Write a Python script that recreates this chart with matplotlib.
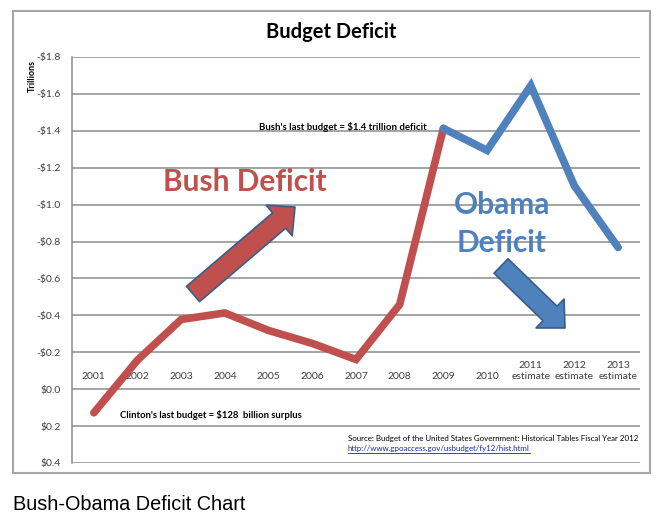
import matplotlib.pyplot as plt
from matplotlib.patches import FancyArrowPatch, Rectangle

# deficit values in trillions (negative = deficit, positive = surplus)
years = ['2001', '2002', '2003', '2004', '2005', '2006', '2007', '2008', '2009',
         '2010', '2011\nestimate', '2012\nestimate', '2013\nestimate']
bush_vals = [0.128, -0.158, -0.378, -0.413, -0.318, -0.248, -0.161, -0.459, -1.413]
obama_vals = [-1.413, -1.294, -1.645, -1.101, -0.768]
y_ticks = [-1.8, -1.6, -1.4, -1.2, -1.0, -0.8, -0.6, -0.4, -0.2, 0.0, 0.2, 0.4]

RED = '#C0504D'
BLUE = '#4F81BD'
OUTLINE = '#385D8A'
FONT = 'Lato'

fig = plt.figure(figsize=(6.71, 5.20), dpi=100)

# outer chart frame
fig.patches.append(Rectangle((13 / 671, 1 - 473 / 520), 637 / 671, 462 / 520,
                             transform=fig.transFigure, fill=False,
                             edgecolor='#A6A6A6', linewidth=1.5))

ax = fig.add_axes([72 / 671, 1 - 463 / 520, 568 / 671, 406 / 520])
ax.set_xlim(0, len(years))
ax.set_ylim(0.4, -1.8)

for v in y_ticks:
    ax.axhline(v, color='#8C8C8C', linewidth=1.1, zorder=1)

for s in ['top', 'right', 'bottom']:
    ax.spines[s].set_visible(False)
ax.spines['left'].set_color('#8C8C8C')
ax.spines['left'].set_linewidth(1.1)

ax.set_xticks([])
ax.set_yticks(y_ticks)
labels = []
for v in y_ticks:
    if v < 0:
        labels.append('-$%.1f' % abs(v))
    else:
        labels.append('$%.1f' % v)
ax.set_yticklabels(labels, fontsize=7.5, color='#404040', family=FONT)
ax.tick_params(axis='y', length=0, pad=8)

# category labels sit just above the zero line
xpos = [i + 0.5 for i in range(len(years))]
for x, lab in zip(xpos, years):
    ax.text(x, -0.045, lab, ha='center', va='bottom', fontsize=7.5,
            color='#404040', family=FONT, linespacing=1.2)

ax.plot(xpos[:len(bush_vals)], bush_vals, color=RED, linewidth=5.5,
        solid_capstyle='round', solid_joinstyle='miter', zorder=3)
ax.plot(xpos[len(bush_vals) - 1:], obama_vals, color=BLUE, linewidth=5.5,
        solid_capstyle='round', solid_joinstyle='miter', zorder=3)

# block arrows (drawn in pixel space)
def block_arrow(tail, tip, color):
    a = FancyArrowPatch((tail[0], 520 - tail[1]), (tip[0], 520 - tip[1]),
                        transform=None,
                        arrowstyle='simple,head_length=15,head_width=29,tail_width=14.5',
                        mutation_scale=1, facecolor=color, edgecolor=OUTLINE,
                        linewidth=1.2, shrinkA=0, shrinkB=0, zorder=4)
    fig.patches.append(a)

block_arrow((193, 294), (295, 207), RED)
block_arrow((501, 266), (565, 328), BLUE)

fig.text(331 / 671, 1 - 32 / 520, 'Budget Deficit', ha='center', va='center',
         fontsize=14.5, fontweight='bold', family=FONT)
fig.text(32 / 671, 1 - 76 / 520, 'Trillions', ha='center', va='center',
         rotation=90, fontsize=6.5, fontweight='bold', family=FONT)
fig.text(245 / 671, 1 - 182 / 520, 'Bush Deficit', ha='center', va='center',
         fontsize=21.5, fontweight='bold', color=RED, family=FONT)
fig.text(502 / 671, 1 - 205 / 520, 'Obama', ha='center', va='center',
         fontsize=21.5, fontweight='bold', color=BLUE, family=FONT)
fig.text(502 / 671, 1 - 243 / 520, 'Deficit', ha='center', va='center',
         fontsize=21.5, fontweight='bold', color=BLUE, family=FONT)
fig.text(259 / 671, 1 - 127 / 520, "Bush's last budget = $1.4 trillion deficit",
         ha='left', va='center', fontsize=6.9, fontweight='bold', family=FONT)
fig.text(120 / 671, 1 - 415 / 520, "Clinton's last budget = $128  billion surplus",
         ha='left', va='center', fontsize=6.8, fontweight='bold', family=FONT)
fig.text(348 / 671, 1 - 438 / 520,
         'Source: Budget of the United States Government: Historical Tables Fiscal Year 2012',
         ha='left', va='center', fontsize=5.65, family=FONT)
fig.text(348 / 671, 1 - 449 / 520, 'http://www.gpoaccess.gov/usbudget/fy12/hist.html',
         ha='left', va='center', fontsize=5.65, color='#1F1FBF', family=FONT)
fig.add_artist(plt.Line2D([348 / 671, 530 / 671], [1 - 453 / 520, 1 - 453 / 520],
                          color='#1F1FBF', linewidth=0.6))

fig.text(13 / 671, 1 - 505 / 520, 'Bush-Obama Deficit Chart', ha='left',
         va='center', fontsize=14.3, family='Liberation Sans')

fig.savefig('out.png', dpi=100)
